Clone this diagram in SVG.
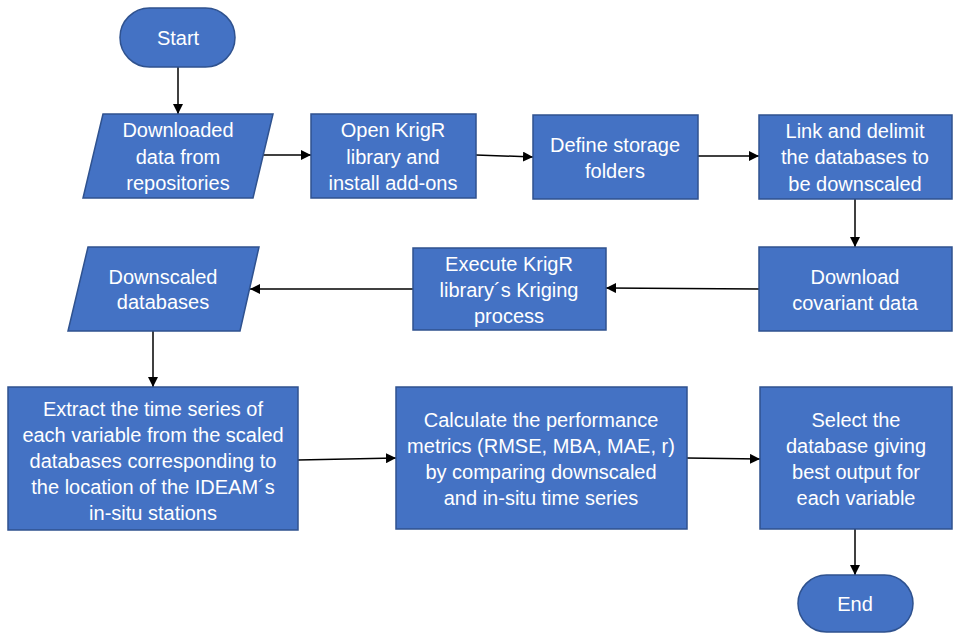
<svg xmlns="http://www.w3.org/2000/svg" width="957" height="633" viewBox="0 0 957 633">
<defs>
<marker id="ah" viewBox="0 0 10 10" refX="10" refY="5" markerWidth="10" markerHeight="10" markerUnits="userSpaceOnUse" orient="auto">
<path d="M0,0 L10,5 L0,10 z" fill="#000"/>
</marker>
<style>
.n{fill:#4472C4;stroke:#2F528F;stroke-width:1.5}
.t{font-family:"Liberation Sans",Arial,sans-serif;font-size:20px;fill:#fff;text-anchor:middle;dominant-baseline:central}
.c{stroke:#000;stroke-width:1.5;fill:none;marker-end:url(#ah)}
</style>
</defs>
<rect width="957" height="633" fill="#fff"/>
<g id="connectors">
<line class="c" x1="178" y1="67" x2="178" y2="114"/>
<line class="c" x1="263" y1="155" x2="311" y2="155"/>
<line class="c" x1="476" y1="155" x2="533" y2="157"/>
<line class="c" x1="698" y1="156" x2="759" y2="156"/>
<line class="c" x1="855" y1="199" x2="855" y2="247"/>
<line class="c" x1="759" y1="289" x2="606" y2="288"/>
<line class="c" x1="413" y1="289" x2="250" y2="289"/>
<line class="c" x1="153" y1="331" x2="153" y2="387"/>
<line class="c" x1="298" y1="460" x2="396" y2="458"/>
<line class="c" x1="687" y1="458" x2="760" y2="459"/>
<line class="c" x1="855" y1="529" x2="855" y2="575"/>
</g>
<g id="start">
<rect class="n" x="120" y="8" width="115" height="59" rx="29.5"/>
<text class="t" x="178" y="38">Start</text>
</g>
<g id="downloaded">
<polygon class="n" points="103,114 273,114 253,198 83,198"/>
<text class="t" x="178" y="130">Downloaded</text>
<text class="t" x="178" y="157">data from</text>
<text class="t" x="178" y="183">repositories</text>
</g>
<g id="open">
<rect class="n" x="311" y="114" width="165" height="84"/>
<text class="t" x="393" y="130">Open KrigR</text>
<text class="t" x="393" y="157">library and</text>
<text class="t" x="393" y="183">install add-ons</text>
</g>
<g id="define">
<rect class="n" x="533" y="115" width="165" height="84"/>
<text class="t" x="615" y="145">Define storage</text>
<text class="t" x="615" y="171">folders</text>
</g>
<g id="link">
<rect class="n" x="759" y="115" width="193" height="84"/>
<text class="t" x="855" y="131">Link and delimit</text>
<text class="t" x="855" y="157">the databases to</text>
<text class="t" x="855" y="184">be downscaled</text>
</g>
<g id="covariant">
<rect class="n" x="759" y="247" width="193" height="84"/>
<text class="t" x="855" y="277">Download</text>
<text class="t" x="855" y="303">covariant data</text>
</g>
<g id="execute">
<rect class="n" x="413" y="248" width="193" height="82"/>
<text class="t" x="509" y="264">Execute KrigR</text>
<text class="t" x="509" y="290">library´s Kriging</text>
<text class="t" x="509" y="316">process</text>
</g>
<g id="downscaled">
<polygon class="n" points="88,247 259,247 240,331 68,331"/>
<text class="t" x="163" y="277">Downscaled</text>
<text class="t" x="163" y="302">databases</text>
</g>
<g id="extract">
<rect class="n" x="8" y="387" width="290" height="143"/>
<text class="t" x="153" y="409">Extract the time series of</text>
<text class="t" x="153" y="435">each variable from the scaled</text>
<text class="t" x="153" y="461">databases corresponding to</text>
<text class="t" x="153" y="487">the location of the IDEAM´s</text>
<text class="t" x="153" y="513">in-situ stations</text>
</g>
<g id="calculate">
<rect class="n" x="396" y="387" width="291" height="142"/>
<text class="t" x="541" y="420">Calculate the performance</text>
<text class="t" x="541" y="446">metrics (RMSE, MBA, MAE, r)</text>
<text class="t" x="541" y="472">by comparing downscaled</text>
<text class="t" x="541" y="498">and in-situ time series</text>
</g>
<g id="select">
<rect class="n" x="760" y="387" width="192" height="142"/>
<text class="t" x="856" y="420">Select the</text>
<text class="t" x="856" y="446">database giving</text>
<text class="t" x="856" y="472">best output for</text>
<text class="t" x="856" y="498">each variable</text>
</g>
<g id="end">
<rect class="n" x="798" y="575" width="115" height="57" rx="28.5"/>
<text class="t" x="855" y="604">End</text>
</g>
</svg>
